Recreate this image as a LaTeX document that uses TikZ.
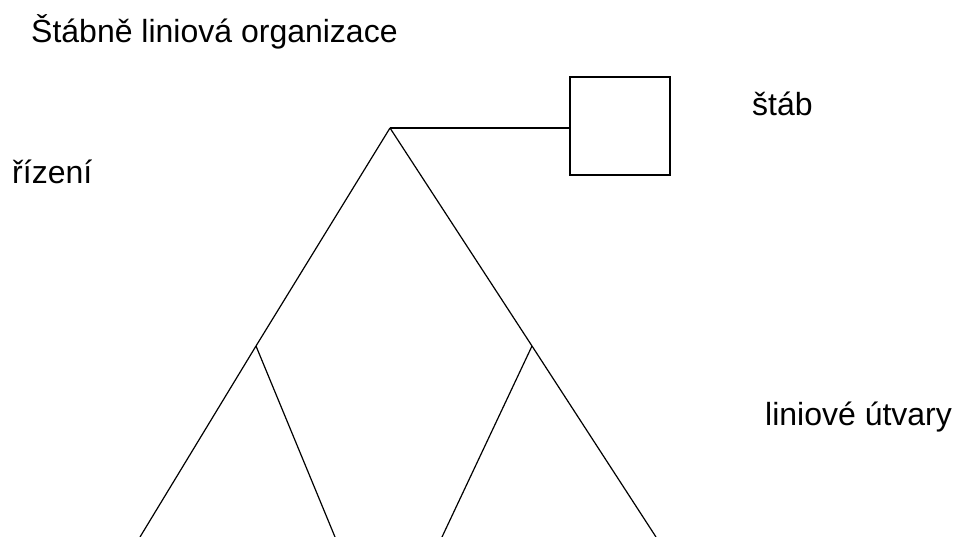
\documentclass[tikz,border=0pt]{standalone}
\usepackage{fontspec}
\setmainfont{Liberation Sans}

\begin{document}
\begin{tikzpicture}[
    x=1pt, y=-1pt,
    label/.style={inner sep=0pt, anchor=base west, font=\fontsize{32}{38}\selectfont},
    staffbox/.style={draw, minimum width=100pt, minimum height=98pt, inner sep=0pt, line width=1.2pt},
    line/.style={line width=1.2pt},
    every node/.style={text=black}
]

\useasboundingbox (0,0) rectangle (961,537);

% Texts
\node[label] (title) at (31,43) {Štábně liniová organizace};
\node[label] (rizeni) at (12,184) {řízení};
\node[label] (stablabel) at (752,116) {štáb};
\node[label] (liniove) at (765,425) {liniové útvary};

% Staff box
\node[staffbox] (stab) at (620,126) {};

% Line points
\coordinate (apex) at (390,128);
\coordinate (lbranch) at (256,346);
\coordinate (rbranch) at (532,346);
\coordinate (end1) at (140,537);
\coordinate (end2) at (335,537);
\coordinate (end3) at (442,537);
\coordinate (end4) at (656,537);

% Connections
\draw[line] (apex) -- (stab.west |- apex);
\draw[line] (apex) -- (lbranch) -- (end1);
\draw[line] (apex) -- (rbranch) -- (end4);
\draw[line] (lbranch) -- (end2);
\draw[line] (rbranch) -- (end3);

\end{tikzpicture}
\end{document}
